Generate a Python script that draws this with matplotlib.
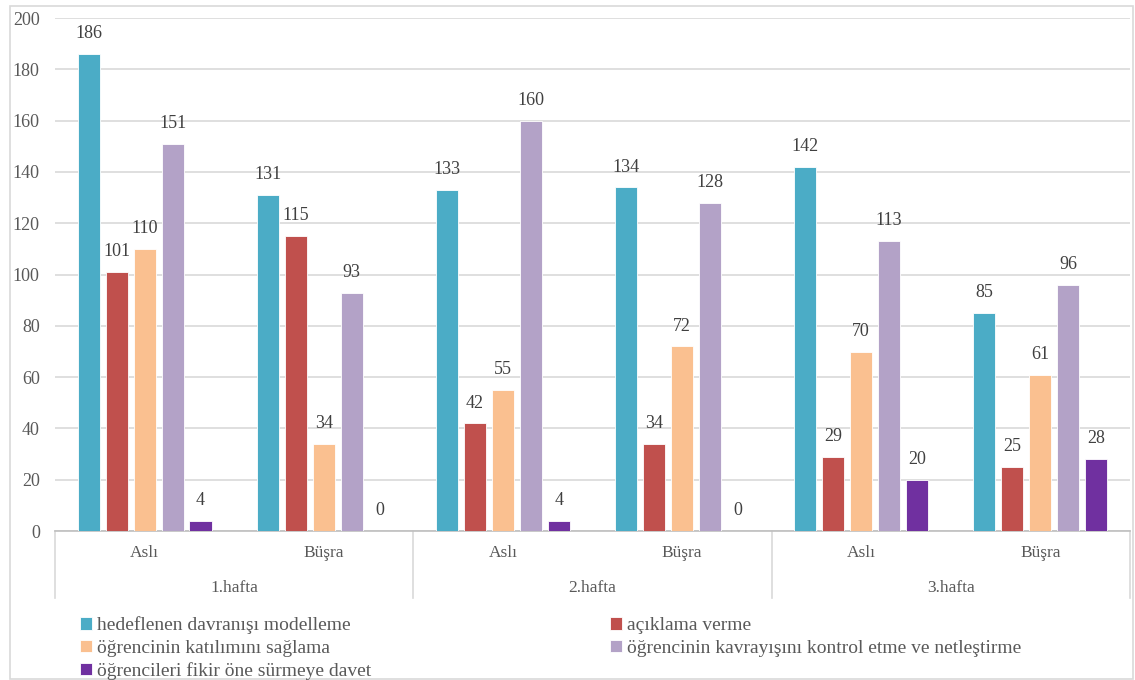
import numpy as np
import matplotlib
matplotlib.use("Agg")
import matplotlib.pyplot as plt
from matplotlib.patches import Rectangle

plt.rcParams['font.family'] = ['Liberation Serif', 'DejaVu Serif']

# weekly counts per teacher, one list per behaviour category
weeks = ["1.hafta", "2.hafta", "3.hafta"]
teachers = ["Aslı", "Büşra"]
series_names = [
    "hedeflenen davranışı modelleme",
    "açıklama verme",
    "öğrencinin katılımını sağlama",
    "öğrencinin kavrayışını kontrol etme ve netleştirme",
    "öğrencileri fikir öne sürmeye davet",
]
modelleme = [186, 131, 133, 134, 142, 85]
aciklama = [101, 115, 42, 34, 29, 25]
katilim = [110, 34, 55, 72, 70, 61]
kavrayis = [151, 93, 160, 128, 113, 96]
davet = [4, 0, 4, 0, 20, 28]
yticks = [0, 20, 40, 60, 80, 100, 120, 140, 160, 180, 200]

colors = ["#4BACC6", "#C0504D", "#FAC090", "#B3A2C7", "#7030A0"]
series = [modelleme, aciklama, katilim, kavrayis, davet]
text_col = "#595959"

fig = plt.figure(figsize=(11.35, 6.8), dpi=100)
ax = fig.add_axes([0.0485, 0.219, 0.947, 0.7544])

x = np.arange(len(weeks) * len(teachers))
step, width = 0.156, 0.123
handles = []
for k, (vals, col) in enumerate(zip(series, colors)):
    pos = x + (k - 2) * step
    b = ax.bar(pos, vals, width, color=col, edgecolor="white", linewidth=0.6, zorder=3)
    handles.append(b)
    for px, v in zip(pos, vals):
        ax.annotate(str(v), (px, v), xytext=(0, 8.5), textcoords="offset points",
                    ha="center", va="bottom", fontsize=13, color="#404040")

ax.set_xlim(-0.5, len(x) - 0.5)
ax.set_ylim(0, 200)
ax.set_yticks(yticks)
ax.tick_params(axis="y", length=0, labelsize=13, labelcolor=text_col, pad=11)
ax.yaxis.grid(True, color="#D9D9D9", linewidth=1.2, zorder=0)
ax.set_xticks([])
for s in ["top", "right", "left"]:
    ax.spines[s].set_visible(False)
ax.spines["bottom"].set_color("#BFBFBF")
ax.spines["bottom"].set_linewidth(1.2)

# two-level category axis: teacher names, then week names with separators
trans = ax.get_xaxis_transform()
for i in x:
    ax.text(i, -0.043, teachers[i % 2], transform=trans, ha="center", va="center",
            fontsize=12.5, color=text_col)
for w, name in enumerate(weeks):
    ax.text(2 * w + 0.5, -0.11, name, transform=trans, ha="center", va="center",
            fontsize=12.5, color=text_col)
for sx in [-0.5, 1.5, 3.5, 5.5]:
    ax.plot([sx, sx], [0, -0.13], transform=trans, color="#D9D9D9",
            linewidth=1.2, clip_on=False)

# legend filled column-wise, so order the entries to read row by row
order = [0, 2, 4, 1, 3]
leg = fig.legend([handles[i] for i in order], [series_names[i] for i in order],
                 ncol=2, loc="upper left", bbox_to_anchor=(0.064, 0.105),
                 frameon=False, fontsize=14, handlelength=0.6, handleheight=0.6,
                 handletextpad=0.25, columnspacing=12.3, labelspacing=0.28,
                 borderaxespad=0)
for t in leg.get_texts():
    t.set_color(text_col)

fig.patches.append(Rectangle((0.009, 0.002), 0.989, 0.989, transform=fig.transFigure,
                             fill=False, edgecolor="#D9D9D9", linewidth=1.2))

fig.savefig("out.png", dpi=100)
